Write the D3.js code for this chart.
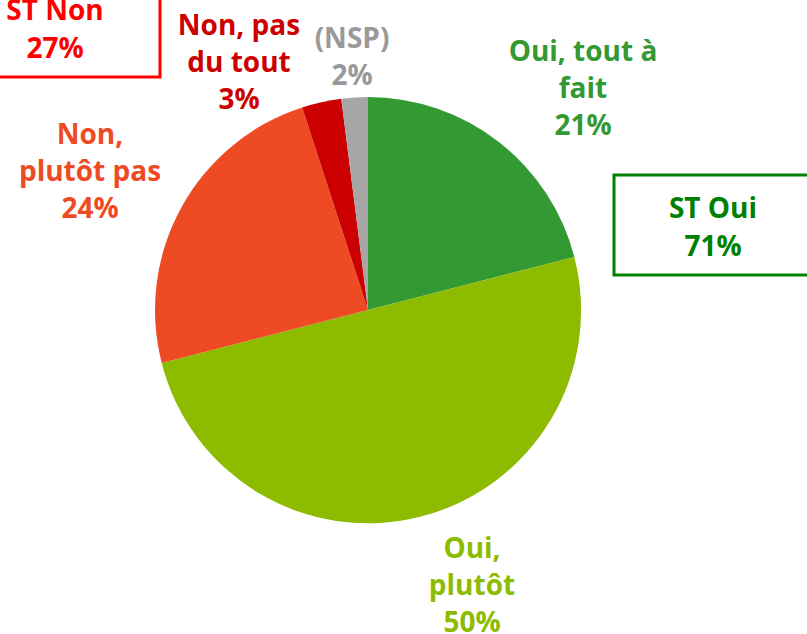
<!DOCTYPE html>
<html>
<head>
<meta charset="utf-8">
<script src="https://cdn.jsdelivr.net/npm/d3@7"></script>
<style>
  html, body { margin: 0; padding: 0; background: #fff; }
  svg { display: block; }
  text { font-family: "Open Sans", "DejaVu Sans", sans-serif; font-weight: 700; }
</style>
</head>
<body>
<svg id="chart"></svg>
<script>
// données
const categories = ['Oui, tout à fait', 'Oui, plutôt', 'Non, plutôt pas', 'Non, pas du tout', '(NSP)'];
const values = [21, 50, 24, 3, 2];
const labelLines = [['Oui, tout à', 'fait'], ['Oui,', 'plutôt'], ['Non,', 'plutôt pas'], ['Non, pas', 'du tout'], ['(NSP)']];
const subtotalLabels = ['ST Oui', 'ST Non'];
const subtotalValues = [71, 27];

const colors = ['#339933', '#8DBB00', '#EE4B24', '#CC0000', '#A6A6A6'];
const labelColors = ['#339933', '#8DBB00', '#EE4B24', '#CC0000', '#999999'];

const width = 807, height = 634;
const cx = 368, cy = 310, radius = 213;
const fontSize = 28;

// position des étiquettes (centre, ligne de base de la 1re ligne)
const labelPos = [[583, 61], [472, 558], [90, 144], [239, 35], [352, 48]];
const lineH = 37;

const svg = d3.select('#chart').attr('width', width).attr('height', height);

const pie = d3.pie().sort(null).value(d => d);
const arc = d3.arc().innerRadius(0).outerRadius(radius);

const g = svg.append('g').attr('transform', `translate(${cx}, ${cy})`);
g.selectAll('path').data(pie(values)).enter().append('path')
  .attr('d', arc)
  .attr('fill', (d, i) => colors[i]);

// étiquettes
const lbl = svg.selectAll('text.lbl').data(categories).enter().append('text')
  .attr('class', 'lbl')
  .attr('text-anchor', 'middle')
  .attr('font-size', fontSize)
  .attr('fill', (d, i) => labelColors[i]);

lbl.each(function(d, i) {
  const t = d3.select(this);
  const lines = labelLines[i].concat([values[i] + '%']);
  lines.forEach((l, j) => {
    t.append('tspan').attr('x', labelPos[i][0]).attr('y', labelPos[i][1] + j * lineH).text(l);
  });
});

// encadrés sous-totaux
const boxes = [
  {x: 614, y: 175, w: 200, h: 100, color: '#008000', tx: 713, ty: 218},
  {x: -10, y: -20, w: 170, h: 97, color: '#FF0000', tx: 55, ty: 20}
];
boxes.forEach((b, i) => {
  svg.append('rect')
    .attr('x', b.x).attr('y', b.y).attr('width', b.w).attr('height', b.h)
    .attr('fill', 'none').attr('stroke', b.color).attr('stroke-width', 3);
  const t = svg.append('text').attr('text-anchor', 'middle').attr('font-size', fontSize).attr('fill', b.color);
  t.append('tspan').attr('x', b.tx).attr('y', b.ty).text(subtotalLabels[i]);
  t.append('tspan').attr('x', b.tx).attr('y', b.ty + 38).text(subtotalValues[i] + '%');
});
</script>
</body>
</html>
